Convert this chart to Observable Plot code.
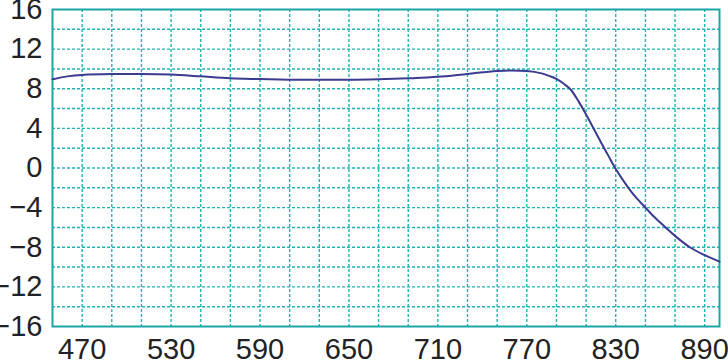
<!DOCTYPE html>
<html>
<head>
<meta charset="utf-8">
<script src="https://cdn.jsdelivr.net/npm/d3@7"></script>
<script src="https://cdn.jsdelivr.net/npm/@observablehq/plot@0.6"></script>
<style>
  html, body { margin: 0; padding: 0; background: #fff; }
  #chart svg { display: block; font-family: "Liberation Sans", Arial, sans-serif; }
</style>
</head>
<body>
<div id="chart"></div>
<script>
// Wavelength (x) and values (y)
const xValues = [450, 460, 470, 490, 510, 530, 550, 570, 590, 610, 630, 650, 670, 690, 710, 730, 750, 760, 770, 780, 785, 790, 795, 800, 805, 810, 815, 820, 825, 830, 835, 840, 845, 850, 855, 860, 870, 880, 890, 900];
const yValues = [8.95, 9.25, 9.4, 9.48, 9.5, 9.45, 9.25, 9.05, 8.98, 8.92, 8.9, 8.9, 8.95, 9.05, 9.2, 9.5, 9.8, 9.85, 9.8, 9.55, 9.3, 9.0, 8.5, 7.85, 6.7, 5.4, 4.0, 2.6, 1.25, -0.1, -1.25, -2.3, -3.2, -4.0, -4.8, -5.5, -6.85, -8.0, -8.8, -9.45];

// Tick labels
const xTicks = [470, 530, 590, 650, 710, 770, 830, 890];
const yTicks = [-16, -12, -8, -4, 0, 4, 8, 12, 16];

// Grid line positions
const xGrid = [470, 490, 510, 530, 550, 570, 590, 610, 630, 650, 670, 690, 710, 730, 750, 770, 790, 810, 830, 850, 870, 890];
const yGrid = [-14, -12, -10, -8, -6, -4, -2, 0, 2, 4, 6, 8, 10, 12, 14];

const data = xValues.map((x, i) => ({x, y: yValues[i]}));

const gridColor = "#22b4b4";
const frameColor = "#1ba6a6";

const chart = Plot.plot({
  width: 728,
  height: 361,
  marginLeft: 52,
  marginRight: 9,
  marginTop: 9,
  marginBottom: 35,
  style: {fontFamily: "'Liberation Sans', Arial, sans-serif", color: "#222", background: "#fff"},
  x: {domain: [450, 900]},
  y: {domain: [-16, 16]},
  marks: [
    Plot.ruleX(xGrid, {stroke: gridColor, strokeWidth: 1.4, strokeDasharray: "3,2"}),
    Plot.ruleY(yGrid, {stroke: gridColor, strokeWidth: 1.4, strokeDasharray: "3,2"}),
    Plot.frame({stroke: frameColor, strokeWidth: 2}),
    Plot.axisX(xTicks, {tickSize: 0, tickPadding: 12, fontSize: 29, label: null, fill: "#222"}),
    Plot.axisY(yTicks, {tickSize: 0, tickPadding: 10, fontSize: 29, label: null, fill: "#222"}),
    Plot.line(data, {x: "x", y: "y", curve: "monotone-x", stroke: "#3b3b90", strokeWidth: 2})
  ]
});
document.getElementById("chart").appendChild(chart);
</script>
</body>
</html>
